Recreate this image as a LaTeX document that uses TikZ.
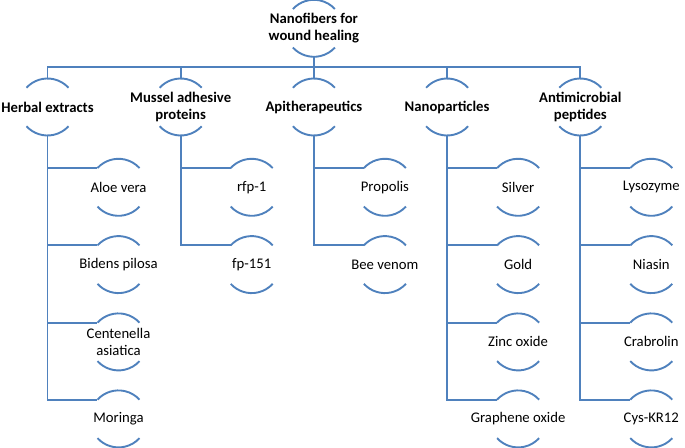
\documentclass[tikz,border=0pt]{standalone}
\usepackage{fontspec}
\setmainfont{Carlito}
\usetikzlibrary{calc}
\definecolor{arcblue}{HTML}{4F81BD}
\tikzset{
  arcline/.style={draw=arcblue, line width=1.9pt},
  lbl/.style={shape=rectangle, minimum height=57pt, inner sep=0pt, align=center,
    font=\fontsize{14.7}{16.5}\selectfont, text=black},
  boldlbl/.style={lbl, font=\fontsize{14.7}{16.5}\selectfont\bfseries},
}
\newcommand\arcpair[1]{%
  \draw[arcline] ([shift={(137.5:28.5pt)}]#1.center) arc[start angle=137.5, end angle=42.5, radius=28.5pt];
  \draw[arcline] ([shift={(222.5:28.5pt)}]#1.center) arc[start angle=222.5, end angle=317.5, radius=28.5pt];
  \coordinate (#1-tl) at ([shift={(137.5:28.5pt)}]#1.center);
}
\begin{document}
\begin{tikzpicture}[x=1pt,y=1pt]
\useasboundingbox (0,0) rectangle (685,-447);
% root
\node[boldlbl] (root) at (313.9,-28.3) {Nanofibers for\\wound healing};
% level 1
\node[boldlbl] (herbal) at (47.5,-107) {Herbal extracts};
\node[boldlbl] (mussel) at (180.7,-107) {Mussel adhesive\\proteins};
\node[boldlbl] (api)    at (313.9,-107) {Apitherapeutics};
\node[boldlbl] (nano)   at (447.1,-107) {Nanoparticles};
\node[boldlbl] (amp)    at (580.3,-107) {Antimicrobial\\peptides};
% children
\node[lbl] (aloe)   at (118.5,-187.3) {Aloe vera};
\node[lbl] (bidens) at (118.5,-264.6) {Bidens pilosa};
\node[lbl] (cent)   at (118.5,-341.9) {Centenella\\asiatica};
\node[lbl] (mor)    at (118.5,-418.9) {Moringa};
\node[lbl] (rfp)    at (251.7,-187.3) {rfp-1};
\node[lbl] (fp)     at (251.7,-264.6) {fp-151};
\node[lbl] (prop)   at (384.9,-187.3) {Propolis};
\node[lbl] (bee)    at (384.9,-264.6) {Bee venom};
\node[lbl] (silver) at (518.1,-187.3) {Silver};
\node[lbl] (gold)   at (518.1,-264.6) {Gold};
\node[lbl] (zinc)   at (518.1,-341.9) {Zinc oxide};
\node[lbl] (graph)  at (518.1,-418.9) {Graphene oxide};
\node[lbl] (lyso)   at (651.3,-187.3) {Lysozyme};
\node[lbl] (nias)   at (651.3,-264.6) {Niasin};
\node[lbl] (crab)   at (651.3,-341.9) {Crabrolin};
\node[lbl] (cys)    at (651.3,-418.9) {Cys-KR12};
% arcs
\foreach \n in {root,herbal,mussel,api,nano,amp,aloe,bidens,cent,mor,rfp,fp,prop,bee,silver,gold,zinc,graph,lyso,nias,crab,cys}{\arcpair{\n}}
% top-level connectors
\coordinate (bar) at (313.9,-67);
\draw[arcline] (root.south) -- (bar);
\foreach \n in {herbal,mussel,api,nano,amp}{\draw[arcline] (\n.north) |- (bar);}
% child connectors
\foreach \c in {aloe,bidens,cent,mor}{\draw[arcline] (herbal.south) |- (\c-tl);}
\foreach \c in {rfp,fp}{\draw[arcline] (mussel.south) |- (\c-tl);}
\foreach \c in {prop,bee}{\draw[arcline] (api.south) |- (\c-tl);}
\foreach \c in {silver,gold,zinc,graph}{\draw[arcline] (nano.south) |- (\c-tl);}
\foreach \c in {lyso,nias,crab,cys}{\draw[arcline] (amp.south) |- (\c-tl);}
\end{tikzpicture}
\end{document}
